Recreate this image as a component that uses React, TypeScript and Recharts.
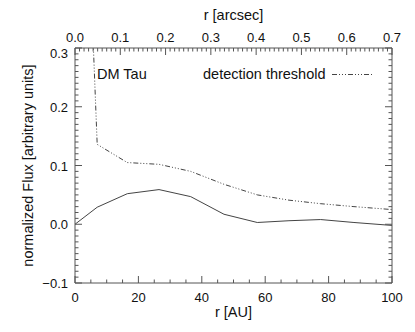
import React from 'react';
import { LineChart, Line, XAxis, YAxis, Legend } from 'recharts';

// radial profile of DM Tau, r in AU
const radiusAU = [0, 7, 16.5, 26.5, 36.5, 47, 57.5, 67.5, 77.5, 88, 100];
const fluxDMTau = [0.0, 0.029, 0.052, 0.059, 0.047, 0.017, 0.003, 0.006, 0.008, 0.003, -0.002];
const detectionThreshold = [1.1, 0.136, 0.105, 0.102, 0.09, 0.068, 0.05, 0.041, 0.035, 0.03, 0.025];

const auTicks = [0, 20, 40, 60, 80, 100];
const arcsecTicks = [0.0, 0.1, 0.2, 0.3, 0.4, 0.5, 0.6, 0.7];
const fluxTicks = [-0.1, 0.0, 0.1, 0.2, 0.3];

// 0.7 arcsec <-> 100 AU
const AU_PER_ARCSEC = 100 / 0.7;

const FONT = '"Liberation Sans", Arial, Helvetica, sans-serif';
const INK = '#111';
const FRAME = '#555';
const LINE = '#444';

const data = radiusAU.map((r, i) => ({ r, flux: fluxDMTau[i], thr: detectionThreshold[i] }));

// minor tick helpers
const steps = (from: number, to: number, step: number) =>
  Array.from({ length: Math.round((to - from) / step) + 1 }, (_, i) => +(from + i * step).toFixed(4));
const isMajor = (v: number, majors: number[]) => majors.some((m) => Math.abs(m - v) < 1e-6);

const auAll = steps(0, 100, 5);
const arcsecAll = steps(0, 0.7, 0.01).map((a) => a * AU_PER_ARCSEC);
const fluxAll = steps(-0.1, 0.3, 0.01);

const BottomTick = (p: any) => {
  const major = isMajor(p.payload.value, auTicks);
  return (
    <g>
      <line x1={p.x} x2={p.x} y1={p.y} y2={p.y - (major ? 7 : 3.5)} stroke={FRAME} />
      {major && (
        <text x={p.x} y={p.y + 19} textAnchor="middle" fontSize={13} fontFamily={FONT} fill={INK}>
          {p.payload.value}
        </text>
      )}
    </g>
  );
};

const TopTick = (p: any) => {
  const arcsec = p.payload.value / AU_PER_ARCSEC;
  const major = isMajor(+arcsec.toFixed(4), arcsecTicks);
  return (
    <g>
      <line x1={p.x} x2={p.x} y1={p.y} y2={p.y + (major ? 7 : 3.5)} stroke={FRAME} />
      {major && (
        <text x={p.x} y={p.y - 6} textAnchor="middle" fontSize={13} fontFamily={FONT} fill={INK}>
          {arcsec.toFixed(1)}
        </text>
      )}
    </g>
  );
};

const LeftTick = (p: any) => {
  const v = p.payload.value;
  const major = isMajor(v, fluxTicks);
  const top = Math.abs(v - 0.3) < 1e-6;
  return (
    <g>
      <line x1={p.x} x2={p.x + (major ? 7 : 3.5)} y1={p.y} y2={p.y} stroke={FRAME} />
      {major && (
        <text x={p.x - 7} y={p.y + (top ? 10 : 5)} textAnchor="end" fontSize={13} fontFamily={FONT} fill={INK}>
          {v < 0 ? '\u2212' + Math.abs(v).toFixed(1) : v.toFixed(1)}
        </text>
      )}
    </g>
  );
};

const RightTick = (p: any) => {
  const major = isMajor(p.payload.value, fluxTicks);
  return <line x1={p.x} x2={p.x - (major ? 7 : 3.5)} y1={p.y} y2={p.y} stroke={FRAME} />;
};

const LegendBox = () => (
  <svg width={415} height={100} style={{ display: 'block' }}>
    <text x={97} y={79} fontSize={14.5} fontFamily={FONT} fill={INK}>DM Tau</text>
    <text x={203} y={79} fontSize={14.5} fontFamily={FONT} fill={INK}>detection threshold</text>
    <line x1={332} x2={372} y1={74.5} y2={74.5} stroke={LINE} strokeDasharray="5 2 1 2 1 2 1 2" />
  </svg>
);

export default function App() {
  return (
    <div style={{ position: 'absolute', left: 0, top: 0, width: 415, height: 332, background: '#fff' }}>
      <LineChart width={415} height={332} data={data} margin={{ top: 0, right: 0, bottom: 0, left: 0 }}>
        <XAxis
          dataKey="r"
          type="number"
          domain={[0, 100]}
          ticks={auAll}
          interval={0}
          tickSize={0}
          tickMargin={0}
          tickLine={false}
          tick={BottomTick}
          height={49}
          axisLine={{ stroke: FRAME }}
          label={{
            content: (props: any) => (
              <text x={props.viewBox.x + props.viewBox.width / 2} y={317} textAnchor="middle" fontSize={14.5} fontFamily={FONT} fill={INK}>
                r [AU]
              </text>
            ),
          }}
        />
        <XAxis
          xAxisId="top"
          orientation="top"
          dataKey="r"
          type="number"
          domain={[0, 100]}
          ticks={arcsecAll}
          interval={0}
          tickSize={0}
          tickMargin={0}
          tickLine={false}
          tick={TopTick}
          height={48}
          axisLine={{ stroke: FRAME }}
          label={{
            content: (props: any) => (
              <text x={props.viewBox.x + props.viewBox.width / 2} y={20} textAnchor="middle" fontSize={14.5} fontFamily={FONT} fill={INK}>
                r [arcsec]
              </text>
            ),
          }}
        />
        <YAxis
          type="number"
          domain={[-0.1, 0.3]}
          allowDataOverflow
          ticks={fluxAll}
          interval={0}
          tickSize={0}
          tickMargin={0}
          tickLine={false}
          tick={LeftTick}
          width={75}
          axisLine={{ stroke: FRAME }}
          label={{
            content: (props: any) => (
              <text
                transform={`translate(33, ${props.viewBox.y + props.viewBox.height / 2}) rotate(-90)`}
                textAnchor="middle"
                fontSize={14.5}
                fontFamily={FONT}
                fill={INK}
              >
                normalized Flux [arbitrary units]
              </text>
            ),
          }}
        />
        <YAxis
          yAxisId="right"
          orientation="right"
          type="number"
          domain={[-0.1, 0.3]}
          allowDataOverflow
          ticks={fluxAll}
          interval={0}
          tickSize={0}
          tickMargin={0}
          tickLine={false}
          tick={RightTick}
          width={23}
          axisLine={{ stroke: FRAME }}
        />
        <Legend
          layout="horizontal"
          verticalAlign="middle"
          align="center"
          content={LegendBox}
          wrapperStyle={{ position: 'absolute', left: 0, top: 0, width: 415, height: 100, pointerEvents: 'none' }}
        />
        <Line dataKey="flux" type="linear" stroke={LINE} strokeWidth={1} dot={false} isAnimationActive={false} />
        <Line
          dataKey="thr"
          type="linear"
          stroke={LINE}
          strokeWidth={1}
          strokeDasharray="5 2 1 2 1 2 1 2"
          dot={false}
          isAnimationActive={false}
        />
      </LineChart>
    </div>
  );
}
